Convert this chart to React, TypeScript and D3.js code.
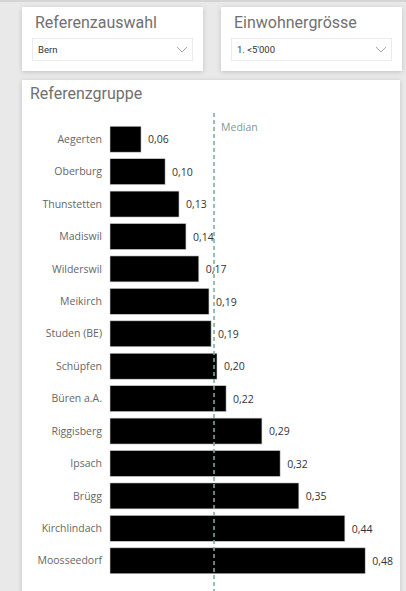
import React from "react";
import * as d3 from "d3";

const categories = ["Aegerten","Oberburg","Thunstetten","Madiswil","Wilderswil","Meikirch","Studen (BE)","Schüpfen","Büren a.A.","Riggisberg","Ipsach","Brügg","Kirchlindach","Moosseedorf"];
const values = [0.058,0.103,0.129,0.142,0.166,0.185,0.189,0.2,0.217,0.284,0.318,0.353,0.439,0.477];
const valueLabels = ["0,06","0,10","0,13","0,14","0,17","0,19","0,19","0,20","0,22","0,29","0,32","0,35","0,44","0,48"];
const slicerTitles = ["Referenzauswahl","Einwohnergrösse"];
const slicerValues = ["Bern","1. <5'000"];
const chartTitle = "Referenzgruppe";
const medianLabel = "Median";

export default function App() {
  const W = 406, H = 591;
  const x = d3.scaleLinear().domain([0, 0.5]).range([110, 110 + 0.5 * 535]);
  const y = d3.scaleBand().domain(categories).range([123, 577]).paddingInner(0.2).paddingOuter(0.1);
  const sorted = [...values].sort((a, b) => a - b);
  const median = d3.median(sorted) as number;
  const mx = x(median);
  const labelFont = "'Open Sans', 'Noto Sans', sans-serif";
  const titleFont = "Roboto, 'DejaVu Sans Condensed', sans-serif";
  const cards = [
    { x: 22, y: 7, w: 181, h: 64 },
    { x: 221, y: 7, w: 181, h: 64 },
  ];
  return (
    <svg width={W} height={H} style={{ position: "absolute", left: 0, top: 0 }}>
      <defs>
        <filter id="sh" x="-10%" y="-10%" width="120%" height="130%">
          <feDropShadow dx="0" dy="1" stdDeviation="2.5" floodColor="#000" floodOpacity="0.18" />
        </filter>
      </defs>
      <rect x={0} y={0} width={W} height={H} fill="#e9e9e9" />
      <rect x={0} y={0} width={W} height={2} fill="#d4d4d4" />
      {cards.map((c, i) => (
        <g key={i}>
          <rect x={c.x} y={c.y} width={c.w} height={c.h} fill="#fff" filter="url(#sh)" />
          <text x={c.x + 13} y={c.y + 21} fontFamily={titleFont} fontSize={16} fill="#707070">{slicerTitles[i]}</text>
          <rect x={c.x + 10.5} y={c.y + 31.5} width={c.w - 21} height={22} fill="#fff" stroke="#eaeaea" />
          <text x={c.x + 16} y={c.y + 46} fontFamily={titleFont} fontSize={9.5} fill="#333">{slicerValues[i]}</text>
          <path d={`M${c.x + c.w - 26},${c.y + 40} l5,5 l5,-5`} fill="none" stroke="#9a9a9a" strokeWidth={0.9} />
        </g>
      ))}
      <rect x={22} y={80} width={378} height={520} fill="#fff" filter="url(#sh)" />
      <text x={30} y={99} fontFamily={titleFont} fontSize={16} fill="#707070">{chartTitle}</text>
      {categories.map((c, i) => {
        const by = y(c) as number;
        const bh = y.bandwidth();
        return (
          <g key={c}>
            <text x={102} y={by + bh / 2} dy="0.35em" textAnchor="end" fontFamily={labelFont} fontSize={10.5} fill="#666">{c}</text>
            <rect x={x(0)} y={by} width={x(values[i]) - x(0)} height={bh} fill="#000" stroke="#d0d0d0" strokeWidth={0.6} />
            <text x={x(values[i]) + 7} y={by + bh / 2} dy="0.4em" fontFamily={labelFont} fontSize={10.5} fill="#333">{valueLabels[i]}</text>
          </g>
        );
      })}
      <line x1={mx} x2={mx} y1={113} y2={591} stroke="#7faa9c" strokeOpacity={0.8} strokeWidth={2} strokeDasharray="4,3" />
      <text x={mx + 7} y={131} fontFamily={labelFont} fontSize={10.5} fill="#7b9990">{medianLabel}</text>
    </svg>
  );
}
